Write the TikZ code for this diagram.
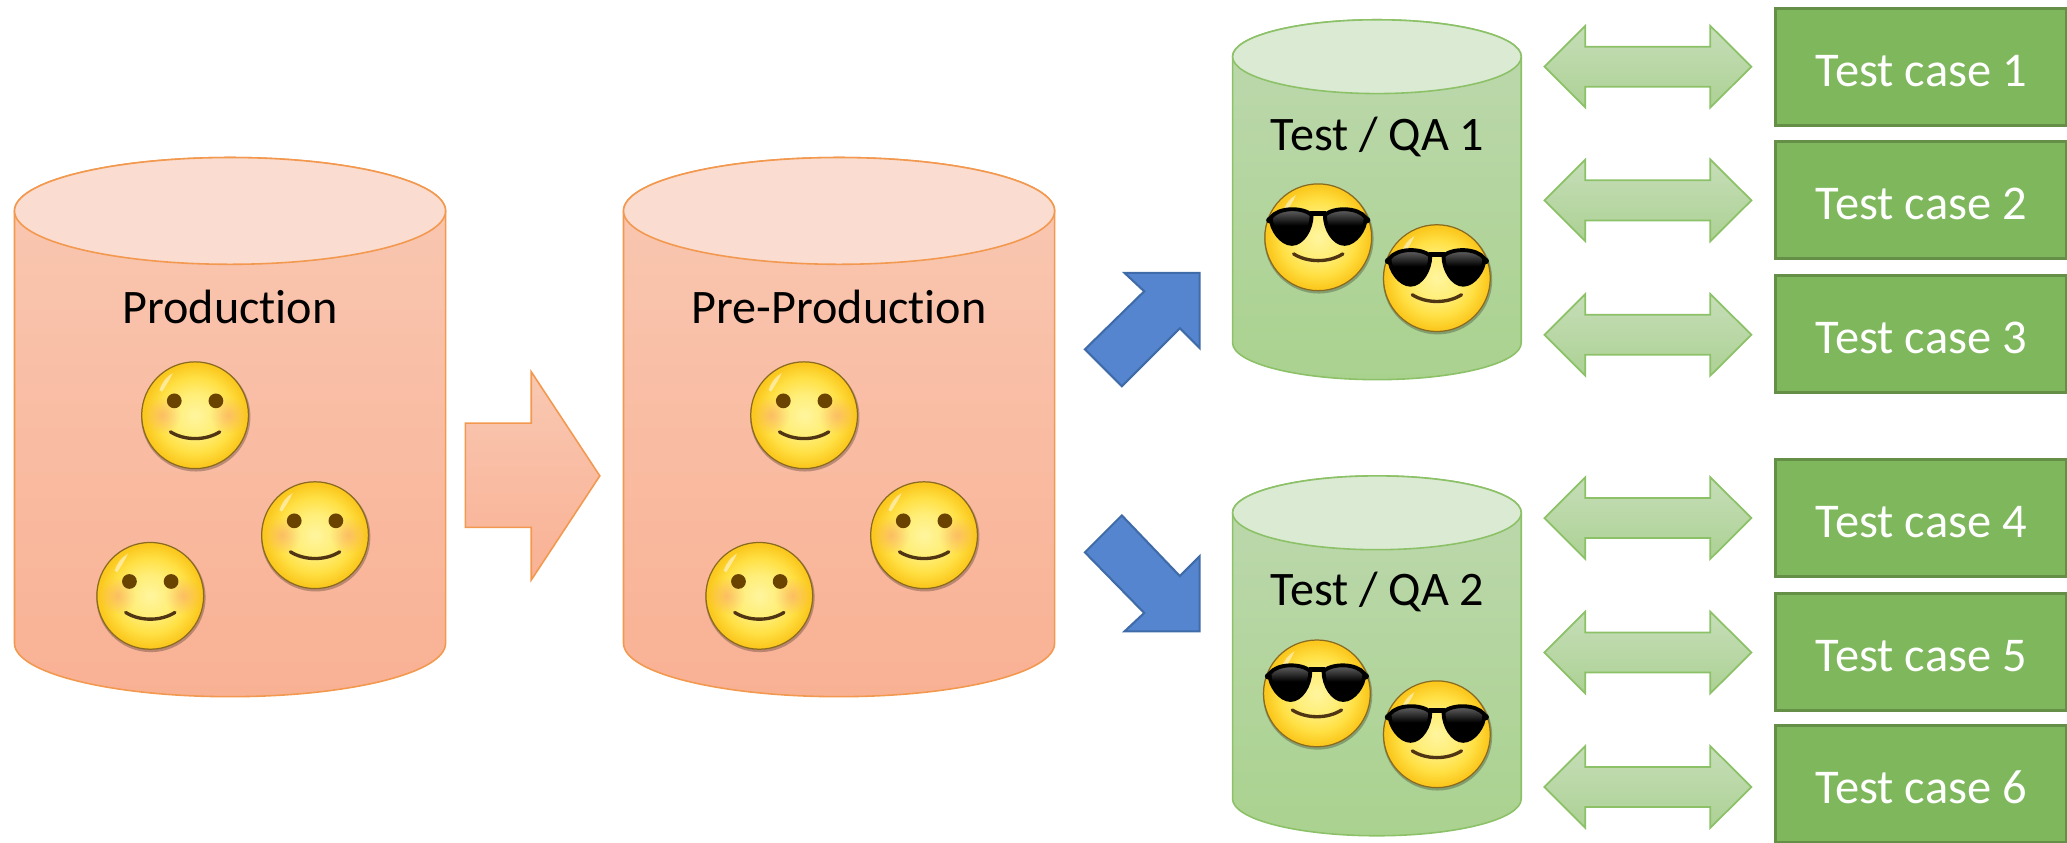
\documentclass[tikz,border=0pt]{standalone}
\usepackage{fontspec}
\setmainfont{Carlito}[Ligatures=NoCommon]
\usepackage{xcolor}
\usetikzlibrary{fadings}
\definecolor{orangeline}{HTML}{F2994F}
\definecolor{orangetop}{HTML}{FBDCD0}
\definecolor{orangeup}{HTML}{F9C8B2}
\definecolor{orangedown}{HTML}{F9B194}
\definecolor{greenline}{HTML}{8CC168}
\definecolor{greentop}{HTML}{DAEAD3}
\definecolor{greenup}{HTML}{BDD8AE}
\definecolor{greendown}{HTML}{AAD28F}
\definecolor{twowayup}{HTML}{C6DEB8}
\definecolor{twowaydown}{HTML}{ACD194}
\definecolor{casefill}{HTML}{7FB75C}
\definecolor{caseline}{HTML}{658F46}
\definecolor{bluefill}{HTML}{5585CF}
\definecolor{blueline}{HTML}{3F6CA8}
\definecolor{eyebrown}{HTML}{6B4300}
\definecolor{mouthbrown}{HTML}{4F3514}
\definecolor{faceinner}{HTML}{FFF59E}
\definecolor{facemid}{HTML}{FFEE78}
\definecolor{faceouter}{HTML}{FFDF42}
\definecolor{facerim}{HTML}{FBC81E}
\definecolor{faceline}{HTML}{8A6A20}
\definecolor{blush}{HTML}{F9A070}
\pgfdeclareradialshading{faceshade}{\pgfpoint{0bp}{0bp}}{color(0bp)=(faceinner);
 color(10bp)=(facemid); color(18bp)=(faceouter); color(24bp)=(facerim); color(28bp)=(facerim)}
\tikzfading[name=blushfade,inner color=transparent!0,outer color=transparent!100]
\tikzset{
 orangebody/.style={draw=orangeline,line width=0.45pt,top color=orangeup,bottom color=orangedown},
 greenbody/.style={draw=greenline,line width=0.45pt,top color=greenup,bottom color=greendown},
 twoway/.style={draw=greenline,line width=0.5pt,top color=twowayup,bottom color=twowaydown},
 bluearrow/.style={draw=blueline,line width=0.6pt,fill=bluefill},
 caselabel/.style={font=\fontsize{13.8pt}{16pt}\selectfont,text=white},
 casebox/.style={caselabel,draw=caseline,line width=0.9pt,fill=casefill,inner sep=0pt,
  minimum width=29.1mm,minimum height=11.7mm,text height=11pt,text depth=0pt},
 drumlabel/.style={font=\fontsize{13.7pt}{16pt}\selectfont,text=black}
}
% #1 style, #2 x centre, #3 top y, #4 bottom y, #5 x radius, #6 y radius, #7 top colour, #8 line colour
\newcommand{\Drum}[8]{
\draw[#1] (#2-#5,#3) -- (#2-#5,#4) arc (180:360:#5 and #6) -- (#2+#5,#3) arc (0:180:#5 and #6) -- cycle;
\draw[draw=#8,line width=0.45pt,fill=#7] (#2,#3) ellipse (#5 and #6);
}
\newcommand{\Face}[2]{
\fill[black,opacity=0.25] (#1+0.5,#2-1.2) circle (41.5);
\draw[draw=faceline,line width=0.35pt,shading=faceshade] (#1,#2) circle (40.5);
\fill[white,opacity=0.5] (#1-27,#2+19) .. controls (#1-25,#2+25) and (#1-22,#2+29) .. (#1-17,#2+32) .. controls (#1-19,#2+27) and (#1-22,#2+23) .. (#1-25,#2+18) -- cycle;
\draw[mouthbrown,line width=0.95pt,line cap=round] (#1-18.7,#2-12.6) .. controls (#1-8,#2-19.4) and (#1+8,#2-19.4) .. (#1+18.7,#2-12.6);
}
\newcommand{\Smile}[2]{
\Face{#1}{#2}
\fill[blush,path fading=blushfade,opacity=0.55] (#1-25,#2) circle (14);
\fill[blush,path fading=blushfade,opacity=0.55] (#1+25,#2) circle (14);
\fill[eyebrown] (#1-15.8,#2+10.9) circle (5.6);
\fill[eyebrown] (#1+15.8,#2+10.9) circle (5.6);
}
\newcommand{\Lens}[3]{
\draw[black,line width=1.1pt,top color=black!55,bottom color=black,middle color=black] (#1+#3*5,#2+17) .. controls (#1+#3*12,#2+23) and (#1+#3*30,#2+23) .. (#1+#3*36,#2+15) .. controls (#1+#3*36,#2+6) and (#1+#3*28,#2-5) .. (#1+#3*20,#2-5) .. controls (#1+#3*12,#2-5) and (#1+#3*5,#2+6) .. (#1+#3*5,#2+17) -- cycle;
}
\newcommand{\Cool}[2]{
\Face{#1}{#2}
\Lens{#1}{#2}{-1}
\Lens{#1}{#2}{1}
\draw[black,line width=1.3pt] (#1-6,#2+18) -- (#1+6,#2+18);
\fill[black] (#1-37,#2+13) circle (2.5);
\fill[black] (#1+37,#2+13) circle (2.5);
}
\newcommand{\Twoway}[1]{
\draw[twoway] (1171.6,#1) -- (1202.6,#1+31) -- (1202.6,#1+15.2) -- (1297.4,#1+15.2) -- (1297.4,#1+31) -- (1328.6,#1) -- (1297.4,#1-31) -- (1297.4,#1-15.2) -- (1202.6,#1-15.2) -- (1202.6,#1-31) -- cycle;
}
\begin{document}
\begin{tikzpicture}[x=0.1318mm,y=0.1318mm]
\useasboundingbox (0,0) rectangle (1568,639);
\Drum{orangebody}{174.5}{479}{151}{163.5}{40.5}{orangetop}{orangeline}
\Drum{orangebody}{636.5}{479}{151}{163.5}{40.5}{orangetop}{orangeline}
\Drum{greenbody}{1044.5}{596}{379}{109.5}{28}{greentop}{greenline}
\Drum{greenbody}{1044.5}{250}{33}{109.5}{28}{greentop}{greenline}
\node[drumlabel] (prod) at (174.5,406) {Production};
\node[drumlabel] (preprod) at (636.5,406) {Pre-Production};
\node[drumlabel] (qaone) at (1045,535) {Test / QA 1};
\node[drumlabel] (qatwo) at (1045,190) {Test / QA 2};
\Smile{148}{324}
\Smile{239}{233}
\Smile{114}{187}
\Smile{610}{324}
\Smile{701}{233}
\Smile{576}{187}
\Cool{1000}{459}
\Cool{1090}{428}
\Cool{999}{113}
\Cool{1090}{82}
\draw[orangebody] (353,318) -- (403,318) -- (403,357) -- (455,278) -- (403,199) -- (403,239) -- (353,239) -- cycle;
\draw[bluearrow] (823,374) -- (868,418) -- (853,432) -- (910,432) -- (910,375) -- (895,390) -- (851,346) -- cycle;
\draw[bluearrow] (823,220) -- (851,248) -- (895,202) -- (910,217) -- (910,160) -- (853,160) -- (868,174) -- cycle;
\Twoway{588.4}
\Twoway{487}
\Twoway{385}
\Twoway{246}
\Twoway{144}
\Twoway{42}
\node[casebox] (caseone) at (1457.5,588.2) {Test case 1};
\node[casebox] (casetwo) at (1457.5,487.2) {Test case 2};
\node[casebox] (casethree) at (1457.5,385.5) {Test case 3};
\node[casebox] (casefour) at (1457.5,246) {Test case 4};
\node[casebox] (casefive) at (1457.5,144.5) {Test case 5};
\node[casebox] (casesix) at (1457.5,44) {Test case 6};
\end{tikzpicture}
\end{document}
